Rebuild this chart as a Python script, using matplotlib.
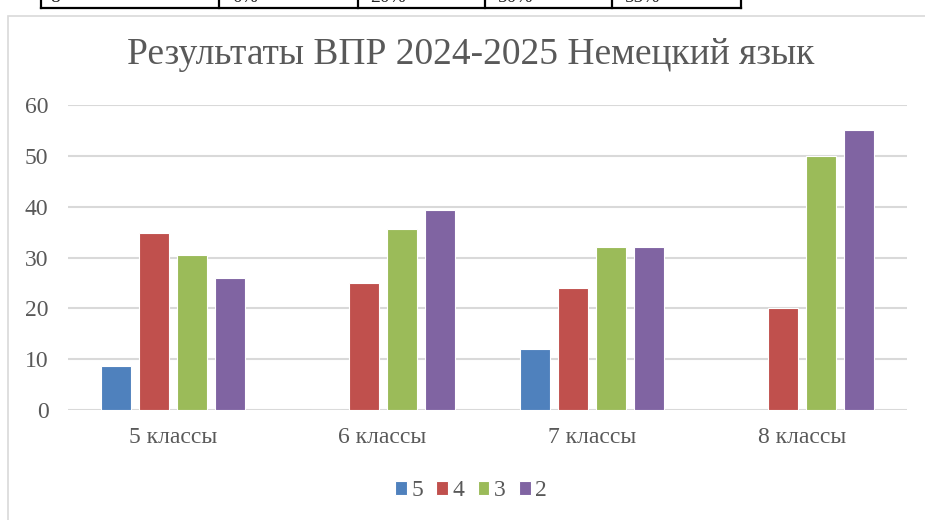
import matplotlib.pyplot as plt
import numpy as np
from matplotlib.patches import Rectangle
from matplotlib.lines import Line2D

# data
categories = ['5 классы', '6 классы', '7 классы', '8 классы']
series_names = ['5', '4', '3', '2']
grade5 = [8.7, 0, 12, 0]
grade4 = [34.8, 25, 24, 20]
grade3 = [30.4, 35.7, 32, 50]
grade2 = [26, 39.3, 32, 55]
table_cells = ['8', '0%', '20%', '50%', '55%']

colors = ['#4F81BD', '#C0504D', '#9BBB59', '#8064A2']
plt.rcParams['font.family'] = ['Liberation Serif', 'DejaVu Serif']

W, H = 925, 520
fig = plt.figure(figsize=(W / 100, H / 100), dpi=100)
fig.patch.set_facecolor('white')

# chart frame (light gray border, runs off the right / bottom edge)
fig.add_artist(Rectangle((8 / W, -0.05), 1.2, 1 - 16 / H + 0.05, transform=fig.transFigure,
                         facecolor='none', edgecolor='#D9D9D9', lw=1.2))

# cut-off table above the chart (only its bottom edge is visible in the source)
tx = [41, 219, 358, 485, 612, 741]
fig.add_artist(Line2D([tx[0] / W, tx[-1] / W], [1 - 8 / H] * 2, transform=fig.transFigure,
                      color='black', lw=1.6))
for x in tx:
    fig.add_artist(Line2D([x / W] * 2, [1 - 8 / H, 1.0], transform=fig.transFigure,
                          color='black', lw=1.6))
for x, t in zip([50, 232, 370, 498, 625], table_cells):
    fig.text(x / W, 1 - 2 / H, t, fontsize=14, ha='left', va='baseline', color='#222222')

ax = fig.add_axes([68 / W, 1 - 410 / H, (907 - 68) / W, (410 - 105) / H])

x = np.arange(len(categories))
width = 0.143
step = 0.181
for i, (vals, c, name) in enumerate(zip([grade5, grade4, grade3, grade2], colors, series_names)):
    ax.bar(x + (i - 1.5) * step, vals, width, color=c, edgecolor='#FFFFFF', lw=0.8,
           label=name, zorder=3)

ax.set_xlim(-0.5, 3.5)
ax.set_ylim(0, 60)
ax.set_yticks(range(0, 61, 10))
ax.grid(axis='y', color='#D9D9D9', lw=1.5, zorder=0)
ax.set_xticks(x)
ax.set_xticklabels(categories)
ax.tick_params(axis='both', length=0, labelsize=17, colors='#595959')
ax.tick_params(axis='x', pad=12)
ax.tick_params(axis='y', pad=14)
for s in ax.spines.values():
    s.set_visible(False)

fig.text(471 / W, 1 - 55 / H, 'Результаты ВПР 2024-2025 Немецкий язык', fontsize=27,
         color='#595959', ha='center', va='center')

fig.legend(loc='center', bbox_to_anchor=(471 / W, 1 - 491 / H), ncol=4, frameon=False,
           fontsize=17, handlelength=0.5, handleheight=0.5, handletextpad=0.2,
           columnspacing=0.55, labelcolor='#595959')

fig.savefig('out.png', dpi=100, facecolor='white')
